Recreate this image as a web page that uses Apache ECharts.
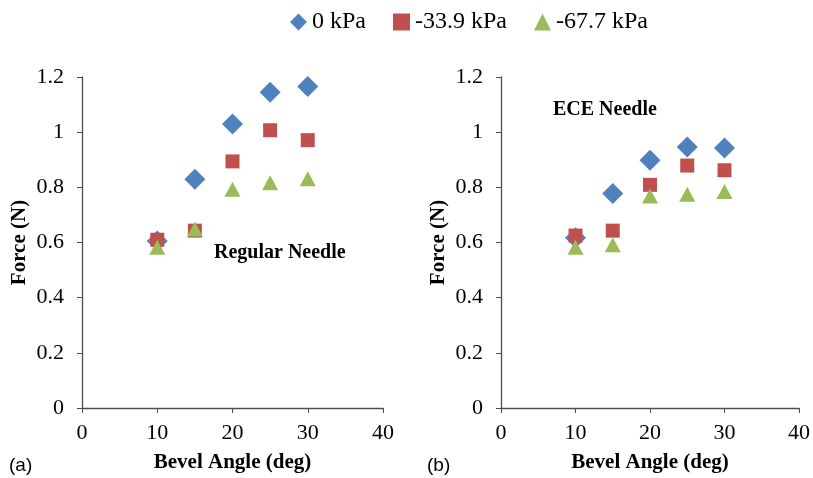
<!DOCTYPE html>
<html>
<head>
<meta charset="utf-8">
<script src="https://cdn.jsdelivr.net/npm/echarts@6/dist/echarts.min.js"></script>
<style>
  html, body { margin: 0; padding: 0; background: #fff; }
  #chart { width: 813px; height: 478px; }
</style>
</head>
<body>
<div id="chart"></div>
<script>
// Bevel angle (deg) on the x axis
const bevelAngles = [10, 15, 20, 25, 30];

// Regular needle insertion force (N)
const regular0kPa   = [0.605, 0.829, 1.030, 1.145, 1.166];
const regular339kPa = [0.610, 0.643, 0.894, 1.007, 0.971];
const regular677kPa = [0.583, 0.649, 0.793, 0.817, 0.831];

// ECE needle insertion force (N)
const ece0kPa   = [0.617, 0.778, 0.898, 0.946, 0.943];
const ece339kPa = [0.625, 0.643, 0.809, 0.879, 0.862];
const ece677kPa = [0.583, 0.592, 0.769, 0.775, 0.785];

const seriesNames = ['0 kPa', '-33.9 kPa', '-67.7 kPa'];
const xTicks = [0, 10, 20, 30, 40];
const yTicks = [0, 0.2, 0.4, 0.6, 0.8, 1, 1.2];

const colors = ['#4F81BD', '#C0504D', '#9BBB59'];
const symbols = ['diamond', 'rect', 'triangle'];
const symbolSizes = [21, 14, [16, 15]];
const serif = '"Liberation Serif", "Times New Roman", serif';
const axisColor = '#4d4d4d';

function pairs(values) {
  return bevelAngles.map((x, i) => [x, values[i]]);
}

function xAxis(gridIndex) {
  return {
    type: 'value', gridIndex,
    min: xTicks[0], max: xTicks[xTicks.length - 1], interval: 10,
    name: 'Bevel Angle (deg)', nameLocation: 'middle', nameGap: 44,
    nameTextStyle: { fontFamily: serif, fontWeight: 'bold', fontSize: 21, color: '#000' },
    axisLine: { show: true, lineStyle: { color: axisColor, width: 1.3 } },
    axisTick: { show: true, inside: false, length: 5, lineStyle: { color: axisColor } },
    axisLabel: { fontFamily: serif, fontSize: 22, color: '#000', margin: 14 },
    splitLine: { show: false }
  };
}

function yAxis(gridIndex) {
  return {
    type: 'value', gridIndex,
    min: yTicks[0], max: yTicks[yTicks.length - 1], interval: 0.2,
    name: 'Force (N)', nameLocation: 'middle', nameGap: 52,
    nameTextStyle: { fontFamily: serif, fontWeight: 'bold', fontSize: 21, color: '#000' },
    axisLine: { show: true, lineStyle: { color: axisColor, width: 1.3 } },
    axisTick: { show: true, inside: false, length: 5, lineStyle: { color: axisColor } },
    axisLabel: {
      fontFamily: serif, fontSize: 22, color: '#000', margin: 18,
      formatter: v => String(Math.round(v * 10) / 10)
    },
    splitLine: { show: false }
  };
}

const groups = [
  [regular0kPa, regular339kPa, regular677kPa],
  [ece0kPa, ece339kPa, ece677kPa]
];

const series = [];
groups.forEach((group, g) => {
  group.forEach((values, s) => {
    series.push({
      type: 'scatter',
      name: seriesNames[s],
      xAxisIndex: g, yAxisIndex: g,
      symbol: symbols[s],
      symbolSize: symbolSizes[s],
      itemStyle: { color: colors[s], opacity: 1 },
      data: pairs(values),
      z: 2 + s
    });
  });
});

const chart = echarts.init(document.getElementById('chart'), null, { renderer: 'canvas' });
chart.setOption({
  animation: false,
  backgroundColor: '#fff',
  legend: {
    top: 5, left: 285,
    itemWidth: 17, itemHeight: 17, itemGap: 27,
    data: seriesNames,
    textStyle: { fontFamily: serif, fontSize: 24, color: '#000' },
    selectedMode: false
  },
  grid: [
    { left: 82, right: 430, top: 77, bottom: 67, containLabel: false },
    { left: 501, right: 10, top: 77, bottom: 67, containLabel: false }
  ],
  xAxis: [xAxis(0), xAxis(1)],
  yAxis: [yAxis(0), yAxis(1)],
  series,
  graphic: [
    { type: 'text', left: 214, top: 243, style: { text: 'Regular Needle', font: 'bold 20px ' + serif, fill: '#000' } },
    { type: 'text', left: 553, top: 100, style: { text: 'ECE Needle', font: 'bold 20px ' + serif, fill: '#000' } },
    { type: 'text', left: 9, top: 456, style: { text: '(a)', font: '19px "Liberation Sans", Arial, sans-serif', fill: '#000' } },
    { type: 'text', left: 427, top: 456, style: { text: '(b)', font: '19px "Liberation Sans", Arial, sans-serif', fill: '#000' } }
  ]
});
</script>
</body>
</html>
